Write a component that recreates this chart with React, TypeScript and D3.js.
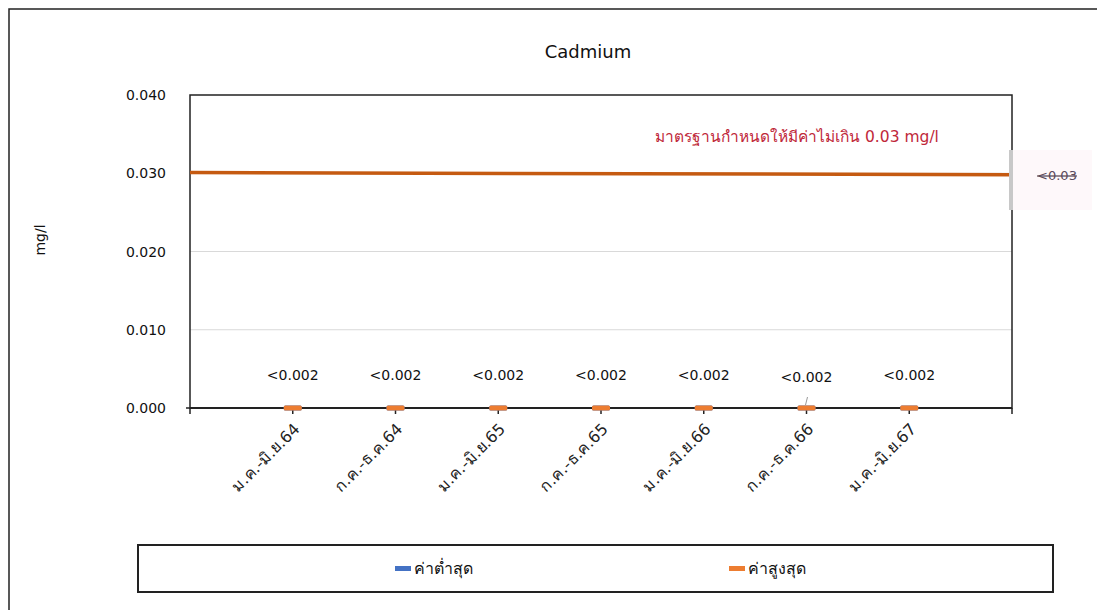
import React from "react";
import * as d3 from "d3";

const categories = ["ม.ค.-มิ.ย.64", "ก.ค.-ธ.ค.64", "ม.ค.-มิ.ย.65", "ก.ค.-ธ.ค.65", "ม.ค.-มิ.ย.66", "ก.ค.-ธ.ค.66", "ม.ค.-มิ.ย.67"];
const minValues = [0, 0, 0, 0, 0, 0, 0];
const maxValues = [0, 0, 0, 0, 0, 0, 0];
const maxLabels = ["<0.002", "<0.002", "<0.002", "<0.002", "<0.002", "<0.002", "<0.002"];
const standardLine = [0.0301, 0.0298];
const yTicks = [0, 0.01, 0.02, 0.03, 0.04];
const title = "Cadmium";
const yTitle = "mg/l";
const standardNote = "มาตรฐานกำหนดให้มีค่าไม่เกิน 0.03 mg/l";
const standardLabel = "<0.03";
const legendNames = ["ค่าต่ำสุด", "ค่าสูงสุด"];

const W = 1097, H = 610;
const L = 190, R = 1012, T = 95, B = 408;
const FONT = "'DejaVu Sans', 'Noto Sans', sans-serif";
const ORANGE = "#ED7D31";
const BLUE = "#4472C4";

export default function App() {
  const y = d3.scaleLinear().domain([0, 0.04]).range([B, T]);
  const x = d3.scaleLinear().domain([0, categories.length + 1]).range([L, R]);
  const xs = d3.scaleLinear().domain([0, 1]).range([L, R]);
  const lineGen = d3.line<number>().x((_, i) => xs(i)).y((d) => y(d));

  return (
    <svg width={W} height={H} style={{ position: "absolute", left: 0, top: 0, background: "#fff" }}>
      <rect x={9} y={9} width={W + 20} height={H + 20} fill="none" stroke="#222" strokeWidth={1.5} />
      <text x={588} y={58} textAnchor="middle" fontFamily={FONT} fontSize={18} fill="#111">{title}</text>
      <text transform={`translate(45,240) rotate(-90)`} textAnchor="middle" fontFamily={FONT} fontSize={14} fill="#111">{yTitle}</text>

      {yTicks.filter((t) => t > 0 && t < 0.04).map((t) => (
        <line key={t} x1={L} x2={R} y1={y(t)} y2={y(t)} stroke="#d9d9d9" strokeWidth={1} />
      ))}
      {yTicks.map((t) => (
        <text key={t} x={166} y={y(t) + 5} textAnchor="end" fontFamily={FONT} fontSize={14} fill="#111">{t.toFixed(3)}</text>
      ))}

      <rect x={L} y={T} width={R - L} height={B - T} fill="none" stroke="#222" strokeWidth={1.5} />
      <line x1={L} x2={R} y1={B} y2={B} stroke="#222" strokeWidth={2} />
      <line x1={L - 4} x2={L} y1={B} y2={B} stroke="#222" strokeWidth={1.5} />
      {d3.range(categories.length + 2).map((i) => (
        <line key={i} x1={x(i)} x2={x(i)} y1={B} y2={B + 6} stroke="#222" strokeWidth={1.5} />
      ))}

      <path d={lineGen(standardLine) || ""} fill="none" stroke="#C55A11" strokeWidth={3.5} />

      {categories.map((c, i) => (
        <text key={c + i} transform={`translate(${x(i + 1) + 8},${B + 22}) rotate(-45)`} textAnchor="end" fontFamily={FONT} fontSize={16} fill="#222">{c}</text>
      ))}

      {minValues.map((v, i) => (
        <rect key={"mn" + i} x={x(i + 1) - 9} y={y(v) - 2.5} width={18} height={5} rx={1.5} fill={BLUE} />
      ))}
      {maxValues.map((v, i) => (
        <rect key={"mx" + i} x={x(i + 1) - 9} y={y(v) - 2.5} width={18} height={5} rx={1.5} fill={ORANGE} />
      ))}
      {maxLabels.map((l, i) => (
        <text key={"lb" + i} x={x(i + 1)} y={y(maxValues[i]) - 28 + (i === 5 ? 2 : 0)} textAnchor="middle" fontFamily={FONT} fontSize={14} fill="#111">{l}</text>
      ))}
      <line x1={x(6) - 1} y1={B - 3} x2={x(6) + 1} y2={B - 11} stroke="#999" strokeWidth={1} />

      <text x={797} y={142} textAnchor="middle" fontFamily={FONT} fontSize={15.5} fill="#C0283A">{standardNote}</text>

      <rect x={1012} y={150} width={80} height={60} fill="#fdf2f6" opacity={0.5} />
      <rect x={1009} y={150} width={4} height={60} fill="#c8c8c8" />
      <text x={1057} y={180} textAnchor="middle" fontFamily={FONT} fontSize={13} fill="#5a4a5a" textDecoration="line-through">{standardLabel}</text>

      <rect x={138} y={545} width={915} height={47} fill="none" stroke="#222" strokeWidth={2} />
      <rect x={395} y={566} width={16} height={5} fill={BLUE} />
      <text x={414} y={574} fontFamily={FONT} fontSize={16} fill="#111">{legendNames[0]}</text>
      <rect x={729} y={566} width={16} height={5} fill={ORANGE} />
      <text x={748} y={574} fontFamily={FONT} fontSize={16} fill="#111">{legendNames[1]}</text>
    </svg>
  );
}
